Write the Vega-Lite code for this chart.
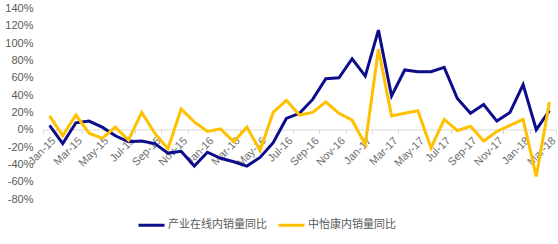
{
  "$schema": "https://vega.github.io/schema/vega-lite/v6.json",
  "width": 513,
  "height": 190.5,
  "autosize": {"type": "none"},
  "padding": {"left": 43, "top": 8.5, "right": 2, "bottom": 45},
  "background": "white",
  "config": {
    "view": {"stroke": null},
    "font": "Liberation Sans"
  },
  "data": {
    "values": [
      {"m": "Jan-15", "a": 5, "b": 16},
      {"m": "Feb-15", "a": -16, "b": -7},
      {"m": "Mar-15", "a": 8, "b": 17},
      {"m": "Apr-15", "a": 10, "b": -4},
      {"m": "May-15", "a": 3, "b": -10},
      {"m": "Jun-15", "a": -7, "b": 3},
      {"m": "Jul-15", "a": -14, "b": -12},
      {"m": "Aug-15", "a": -13, "b": 20},
      {"m": "Sep-15", "a": -16, "b": -4},
      {"m": "Oct-15", "a": -27, "b": -22},
      {"m": "Nov-15", "a": -25, "b": 24},
      {"m": "Dec-15", "a": -42, "b": 9},
      {"m": "Jan-16", "a": -26, "b": -2},
      {"m": "Feb-16", "a": -33, "b": 1},
      {"m": "Mar-16", "a": -37, "b": -14},
      {"m": "Apr-16", "a": -42, "b": 3},
      {"m": "May-16", "a": -32, "b": -24},
      {"m": "Jun-16", "a": -15, "b": 20},
      {"m": "Jul-16", "a": 13, "b": 34},
      {"m": "Aug-16", "a": 19, "b": 17},
      {"m": "Sep-16", "a": 35, "b": 20},
      {"m": "Oct-16", "a": 59, "b": 32},
      {"m": "Nov-16", "a": 60, "b": 19},
      {"m": "Dec-16", "a": 82, "b": 11},
      {"m": "Jan-17", "a": 62, "b": -17},
      {"m": "Feb-17", "a": 115, "b": 93},
      {"m": "Mar-17", "a": 39, "b": 16},
      {"m": "Apr-17", "a": 69, "b": 19},
      {"m": "May-17", "a": 67, "b": 22},
      {"m": "Jun-17", "a": 67, "b": -21},
      {"m": "Jul-17", "a": 72, "b": 12},
      {"m": "Aug-17", "a": 36, "b": -1},
      {"m": "Sep-17", "a": 19, "b": 4},
      {"m": "Oct-17", "a": 29, "b": -13},
      {"m": "Nov-17", "a": 10, "b": -2},
      {"m": "Dec-17", "a": 20, "b": 5},
      {"m": "Jan-18", "a": 52, "b": 12},
      {"m": "Feb-18", "a": 0, "b": -54},
      {"m": "Mar-18", "a": 22, "b": 32}
    ]
  },
  "transform": [
    {"fold": ["a", "b"], "as": ["k", "value"]},
    {"lookup": "k", "from": {"data": {"values": [{"k": "a", "series": "产业在线内销量同比"}, {"k": "b", "series": "中怡康内销量同比"}]}, "key": "k", "fields": ["series"]}}
  ],
  "mark": {"type": "line", "strokeWidth": 3, "strokeJoin": "miter", "clip": false},
  "encoding": {
    "x": {
      "field": "m",
      "type": "ordinal",
      "sort": null,
      "scale": {"type": "band", "paddingInner": 0, "paddingOuter": 0},
      "axis": {
        "title": null,
        "values": ["Jan-15", "Mar-15", "May-15", "Jul-15", "Sep-15", "Nov-15", "Jan-16", "Mar-16", "May-16", "Jul-16", "Sep-16", "Nov-16", "Jan-17", "Mar-17", "May-17", "Jul-17", "Sep-17", "Nov-17", "Jan-18", "Mar-18"],
        "offset": -69.5,
        "tickBand": "extent",
        "domainColor": "#D9D9D9",
        "tickColor": "#D9D9D9",
        "tickSize": 4,
        "labelAngle": -45,
        "labelAlign": "right",
        "labelBaseline": "top",
        "labelPadding": 1,
        "labelFontSize": 11,
        "labelColor": "#6E6E6E",
        "labelOverlap": false,
        "grid": false
      }
    },
    "y": {
      "field": "value",
      "type": "quantitative",
      "scale": {"domain": [-80, 140], "nice": false, "zero": false},
      "axis": {
        "title": null,
        "values": [-80, -60, -40, -20, 0, 20, 40, 60, 80, 100, 120, 140],
        "labelExpr": "datum.value + '%'",
        "domain": false,
        "ticks": false,
        "grid": false,
        "labelPadding": 10,
        "labelFontSize": 11,
        "labelColor": "#595959"
      }
    },
    "color": {
      "field": "series",
      "type": "nominal",
      "sort": ["产业在线内销量同比", "中怡康内销量同比"],
      "scale": {"domain": ["产业在线内销量同比", "中怡康内销量同比"], "range": ["#0D0D8C", "#FFC000"]},
      "legend": {
        "title": null,
        "orient": "none",
        "direction": "horizontal",
        "legendX": 94,
        "legendY": 202,
        "symbolType": "stroke",
        "symbolSize": 676,
        "symbolStrokeWidth": 3,
        "labelFontSize": 11,
        "labelColor": "#595959",
        "labelFont": "Noto Sans CJK SC",
        "labelOffset": 2,
        "columnPadding": 5
      }
    }
  }
}
